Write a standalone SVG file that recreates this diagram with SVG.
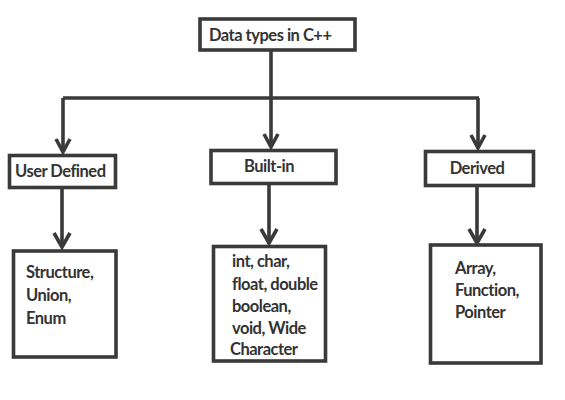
<svg xmlns="http://www.w3.org/2000/svg" width="565" height="400" viewBox="0 0 565 400">
<style>
.box{fill:#fff;stroke:#3a3a3a;stroke-width:3.6}
.ln{fill:none;stroke:#3a3a3a;stroke-width:3.6}
.ah{fill:none;stroke:#3a3a3a;stroke-width:3.6;stroke-linejoin:miter}
text{font-family:Lato,"Open Sans","Liberation Sans",sans-serif;font-weight:bold;font-size:16.5px;letter-spacing:-0.5px;fill:#333}
.c{text-anchor:middle}
</style>
<rect width="565" height="400" fill="#fff"/>
<g id="connectors">
<path class="ln" d="M271,50 V98 M63,98 H479 M63,98 V152 M271,98 V147 M478,98 V148"/>
<path class="ah" d="M56,139 L63,152 L70,139 M264,134 L271,147 L278,134 M471,135 L478,148 L485,135"/>
<path class="ln" d="M62,187 V247 M269,183 V243 M477,185 V243"/>
<path class="ah" d="M54,233 L62,247 L70,233 M261,229 L269,243 L277,229 M469,229 L477,243 L485,229"/>
</g>
<g id="root">
<rect class="box" x="200" y="19" width="155" height="31"/>
<text x="209" y="41">Data types in C++</text>
</g>
<g id="user-defined">
<rect class="box" x="9.5" y="155.5" width="106" height="32"/>
<text x="15" y="177">User Defined</text>
</g>
<g id="built-in">
<rect class="box" x="211" y="150.5" width="125" height="33"/>
<text class="c" x="269" y="172">Built-in</text>
</g>
<g id="derived">
<rect class="box" x="425.5" y="151.5" width="108" height="34"/>
<text class="c" x="477" y="174">Derived</text>
</g>
<g id="user-defined-types">
<rect class="box" x="13.5" y="251" width="102.5" height="106"/>
<text x="26" y="278">Structure,</text>
<text x="26" y="301">Union,</text>
<text x="26" y="324">Enum</text>
</g>
<g id="built-in-types">
<rect class="box" x="213.5" y="246.5" width="112" height="114.5"/>
<text x="232" y="267">int, char,</text>
<text x="232" y="290">float, double</text>
<text x="232" y="312">boolean,</text>
<text x="232" y="334">void, Wide</text>
<text x="230" y="355">Character</text>
</g>
<g id="derived-types">
<rect class="box" x="430.5" y="245" width="110.5" height="118"/>
<text x="455" y="274">Array,</text>
<text x="455" y="296">Function,</text>
<text x="455" y="318">Pointer</text>
</g>
</svg>
